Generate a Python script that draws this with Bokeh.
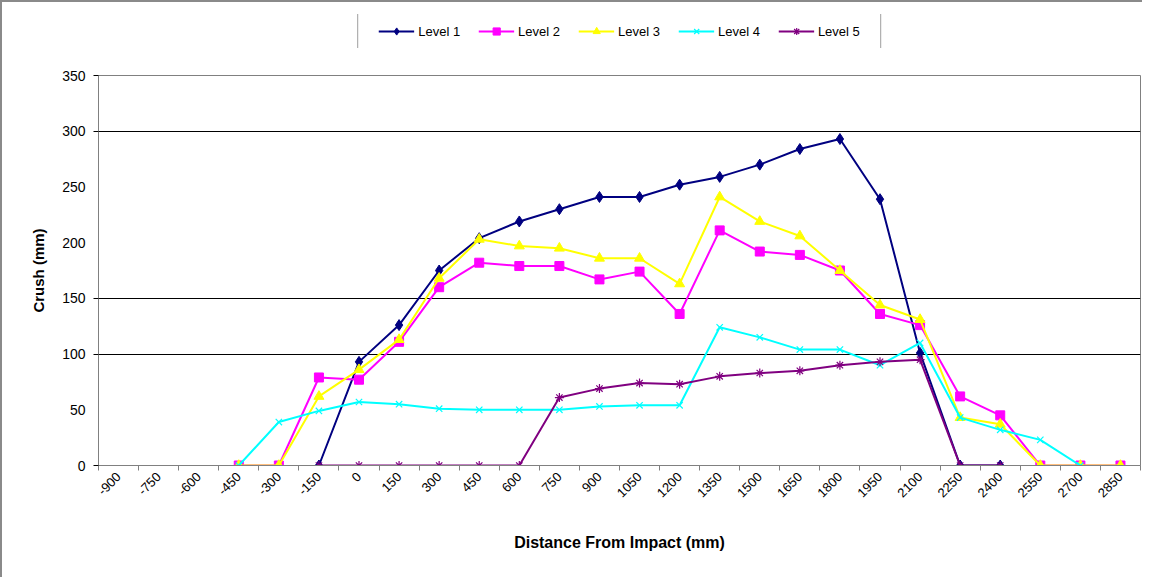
import math
from bokeh.plotting import figure
from bokeh.layouts import column
from bokeh.models import Range1d, FixedTicker, Legend, LegendItem
from bokeh.embed import file_html
from bokeh.resources import INLINE

categories = ["-900", "-750", "-600", "-450", "-300", "-150", "0", "150", "300",
              "450", "600", "750", "900", "1050", "1200", "1350", "1500", "1650",
              "1800", "1950", "2100", "2250", "2400", "2550", "2700", "2850"]

level1_x = ["-150", "0", "150", "300", "450", "600", "750", "900", "1050", "1200",
            "1350", "1500", "1650", "1800", "1950", "2100", "2250", "2400"]
level1_y = [0, 93, 126, 175, 204, 219, 230, 241, 241, 252, 259, 270, 284, 293,
            239, 101, 0, 0]

level2_x = ["-450", "-300", "-150", "0", "150", "300", "450", "600", "750", "900",
            "1050", "1200", "1350", "1500", "1650", "1800", "1950", "2100", "2250",
            "2400", "2550", "2700", "2850"]
level2_y = [0, 0, 79, 77, 111, 160, 182, 179, 179, 167, 174, 136, 211, 192, 189,
            175, 136, 126, 62, 45, 0, 0, 0]

level3_x = ["-450", "-300", "-150", "0", "150", "300", "450", "600", "750", "900",
            "1050", "1200", "1350", "1500", "1650", "1800", "1950", "2100", "2250",
            "2400", "2550", "2700", "2850"]
level3_y = [0, 0, 62, 86, 113, 168, 203, 197, 195, 186, 186, 163, 241, 219, 206,
            175, 144, 131, 43, 37, 0, 0, 0]

level4_x = ["-450", "-300", "-150", "0", "150", "300", "450", "600", "750", "900",
            "1050", "1200", "1350", "1500", "1650", "1800", "1950", "2100", "2250",
            "2400", "2550", "2700"]
level4_y = [0, 39, 49, 57, 55, 51, 50, 50, 50, 53, 54, 54, 124, 115, 104, 104,
            90, 110, 43, 32, 23, 0]

level5_x = ["-150", "0", "150", "300", "450", "600", "750", "900", "1050", "1200",
            "1350", "1500", "1650", "1800", "1950", "2100", "2250", "2400"]
level5_y = [0, 0, 0, 0, 0, 0, 61, 69, 74, 73, 80, 83, 85, 90, 93, 95, 0, 0]

series = [
    ("Level 1", level1_x, level1_y, "#000080", "diamond", 11),
    ("Level 2", level2_x, level2_y, "#FF00FF", "square", 9),
    ("Level 3", level3_x, level3_y, "#FFFF00", "triangle", 10),
    ("Level 4", level4_x, level4_y, "#00FFFF", "x", 9),
    ("Level 5", level5_x, level5_y, "#800080", "asterisk", 9),
]

FONT = "Liberation Sans"
n = len(categories)
pos = {c: i for i, c in enumerate(categories)}   # category -> axis slot

# ---------------- main chart ----------------
p = figure(x_range=Range1d(-0.5, n - 0.5), y_range=Range1d(0, 350),
           width=1140, height=515, output_backend="svg", toolbar_location=None,
           min_border_left=96, min_border_right=2, min_border_top=13,
           min_border_bottom=112)
p.background_fill_color = "white"
p.border_fill_color = "white"
p.outline_line_color = "#808080"

ax = p.yaxis[0]
ax.ticker = FixedTicker(ticks=[0, 50, 100, 150, 200, 250, 300, 350],
                        minor_ticks=[0, 100, 150, 300, 350])
ax.axis_line_color = "#808080"
ax.major_tick_line_color = None
ax.major_tick_out = 5
ax.major_tick_in = 0
ax.minor_tick_line_color = "black"
ax.minor_tick_out = 5
ax.minor_tick_in = 0
ax.major_label_standoff = 8
ax.major_label_text_font = FONT
ax.major_label_text_font_size = "14px"
ax.major_label_text_color = "black"
ax.axis_label = "Crush (mm)"
ax.axis_label_text_font = FONT
ax.axis_label_text_font_style = "bold"
ax.axis_label_text_font_size = "15px"
ax.axis_label_text_color = "black"
ax.axis_label_standoff = 12

xa = p.xaxis[0]
xa.ticker = FixedTicker(ticks=list(range(n)),
                        minor_ticks=[i - 0.5 for i in range(n + 1)])
xa.major_label_overrides = {i: c for i, c in enumerate(categories)}
xa.axis_line_color = "#808080"
xa.major_tick_line_color = None
xa.major_tick_out = 5
xa.major_tick_in = 0
xa.minor_tick_line_color = "#808080"
xa.minor_tick_out = 5
xa.minor_tick_in = 0
xa.major_label_orientation = math.pi / 4
xa.major_label_standoff = 4
xa.major_label_text_font = FONT
xa.major_label_text_font_size = "13px"
xa.major_label_text_color = "black"
xa.axis_label = "Distance From Impact (mm)"
xa.axis_label_text_font = FONT
xa.axis_label_text_font_style = "bold"
xa.axis_label_text_font_size = "16px"
xa.axis_label_text_color = "black"
xa.axis_label_standoff = 30

p.ygrid.ticker = FixedTicker(ticks=[100, 150, 300, 350])
p.ygrid.grid_line_color = "black"
p.ygrid.grid_line_width = 1
p.xgrid.grid_line_color = None

# ---------------- legend strip (same series, drawn off-range) ----------------
lg = figure(x_range=Range1d(-0.5, n - 0.5), y_range=Range1d(1000, 1001),
            width=1140, height=60, output_backend="svg", toolbar_location=None,
            min_border_left=96, min_border_right=2, min_border_top=12,
            min_border_bottom=14)
lg.axis.visible = False
lg.grid.grid_line_color = None
lg.outline_line_color = None
lg.background_fill_color = "white"
lg.border_fill_color = "white"

items = []
for name, xs, ys, color, marker, size in series:
    xv = [pos[x] for x in xs]
    p.line(xv, ys, line_color=color, line_width=2)
    l = lg.line(xv, ys, line_color=color, line_width=2)
    if marker in ("x", "asterisk"):
        p.scatter(xv, ys, marker=marker, size=size, line_color=color, line_width=1.2)
        m = lg.scatter(xv, ys, marker=marker, size=size, line_color=color,
                       line_width=1.2)
    else:
        p.scatter(xv, ys, marker=marker, size=size, fill_color=color,
                  line_color=color)
        m = lg.scatter(xv, ys, marker=marker, size=size - 2, fill_color=color,
                       line_color=color)
    items.append(LegendItem(label=name, renderers=[l, m]))

legend = Legend(items=items, orientation="horizontal", location="center",
                label_text_font=FONT, label_text_font_size="13px",
                label_text_color="black",
                glyph_width=36, glyph_height=18, label_standoff=4, spacing=18,
                padding=20, margin=0, border_line_color="#404040",
                border_line_width=1.5, background_fill_color="white")
lg.add_layout(legend, "center")

layout = column(lg, p, spacing=0,
                styles={"border-top": "2px solid #8a8a8a",
                        "border-left": "2px solid #8a8a8a"})

open("out.html", "w").write(file_html(layout, INLINE))
